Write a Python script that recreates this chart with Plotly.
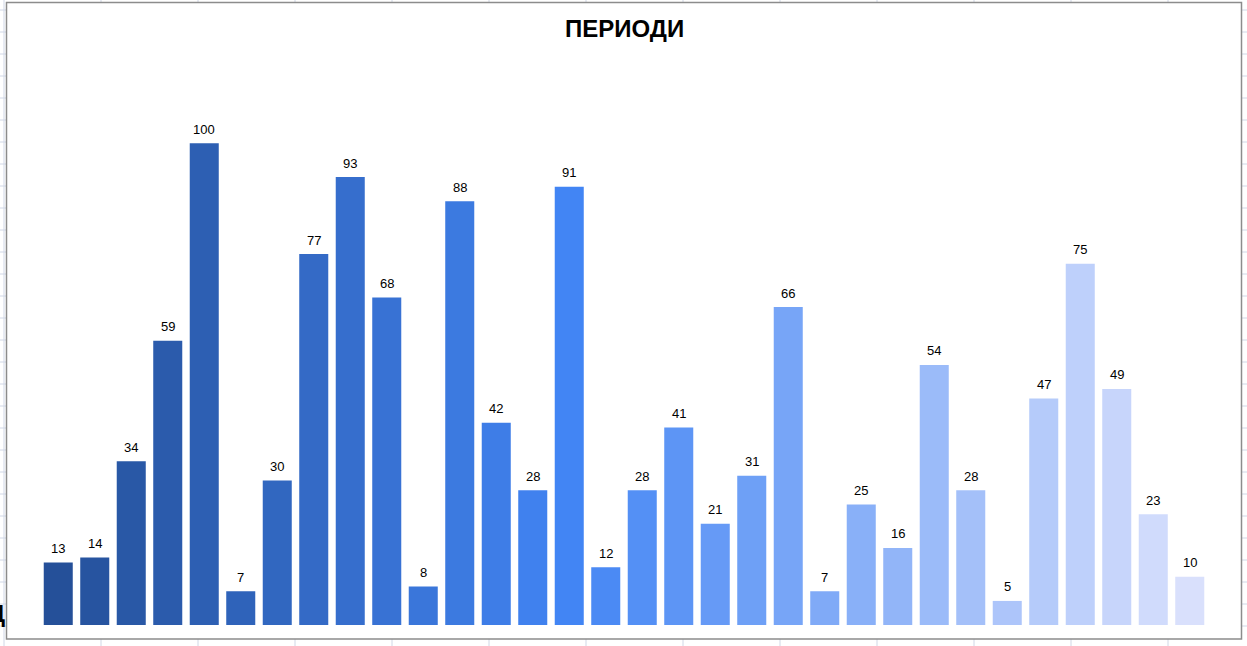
import plotly.graph_objects as go

# ---- data ----
periods = ["1", "2", "3", "4", "5", "6", "7", "8", "9", "10", "11", "12", "13", "14", "15", "16",
           "17", "18", "19", "20", "21", "22", "23", "24", "25", "26", "27", "28", "29", "30", "31", "32"]
values = [13, 14, 34, 59, 100, 7, 30, 77, 93, 68, 8, 88, 42, 28, 91, 12,
          28, 41, 21, 31, 66, 7, 25, 16, 54, 28, 5, 47, 75, 49, 23, 10]
title_text = "ПЕРИОДИ"

# ---- style ----
W_FIG, H_FIG = 1247, 646
L, R, T, B = 40, 39, 47, 21
PW, PH = W_FIG - L - R, H_FIG - T - B


def px_x(p):
    return (p - L) / PW


def px_y(p):
    return 1 - (p - T) / PH


def lerp(c1, c2, t):
    return tuple(round(a + (b - a) * t) for a, b in zip(c1, c2))


c_start, c_mid, c_end = (37, 80, 153), (66, 133, 244), (217, 224, 252)
n = len(values)
mid = 14
colors = []
for i in range(n):
    if i <= mid:
        c = lerp(c_start, c_mid, i / mid)
    else:
        c = lerp(c_mid, c_end, (i - mid) / (n - 1 - mid))
    colors.append("rgb(%d,%d,%d)" % c)

fig = go.Figure()
fig.add_trace(go.Bar(x=periods, y=values, marker=dict(color=colors, line=dict(width=0)),
                     hoverinfo="x+y"))

shapes = []
grid_col = "#d0d7e6"
# spreadsheet grid behind the chart
for k in range(13):
    x = 4 + 97 * k
    shapes.append(dict(type="line", xref="paper", yref="paper", layer="below",
                       x0=px_x(x), x1=px_x(x), y0=px_y(0), y1=px_y(H_FIG),
                       line=dict(color=grid_col, width=1)))
for k in range(30):
    y = 10 + 22 * k
    shapes.append(dict(type="line", xref="paper", yref="paper", layer="below",
                       x0=px_x(0), x1=px_x(W_FIG), y0=px_y(y), y1=px_y(y),
                       line=dict(color=grid_col, width=1)))
# chart box
shapes.append(dict(type="rect", xref="paper", yref="paper", layer="below",
                   x0=px_x(6.5), x1=px_x(1241.5), y0=px_y(639), y1=px_y(2.5),
                   fillcolor="white", line=dict(color="#8c8c8c", width=1.5)))

annotations = []
for i, v in enumerate(values):
    annotations.append(dict(x=i, y=v, xref="x", yref="y", text=str(v), showarrow=False,
                            yanchor="middle", yshift=14,
                            font=dict(family="Liberation Sans, Arial", size=13, color="#000")))
annotations.append(dict(x=px_x(624), y=px_y(28), xref="paper", yref="paper",
                        text="<b>%s</b>" % title_text, showarrow=False,
                        xanchor="center", yanchor="middle",
                        font=dict(family="Liberation Sans, Arial", size=24, color="#000")))
annotations.append(dict(x=px_x(7), y=px_y(613), xref="paper", yref="paper",
                        text="<b>Д</b>", showarrow=False, xanchor="right", yanchor="middle",
                        font=dict(family="Liberation Sans, Arial", size=24, color="#000")))

fig.update_layout(
    width=W_FIG, height=H_FIG,
    margin=dict(l=L, r=R, t=T, b=B, pad=0),
    paper_bgcolor="white", plot_bgcolor="rgba(0,0,0,0)",
    bargap=0.205,
    showlegend=False,
    xaxis=dict(visible=False, range=[-0.5, n - 0.5], type="category"),
    yaxis=dict(visible=False, range=[0, 120]),
    shapes=shapes, annotations=annotations,
)

fig.write_html("out.html", config={"displayModeBar": False})
